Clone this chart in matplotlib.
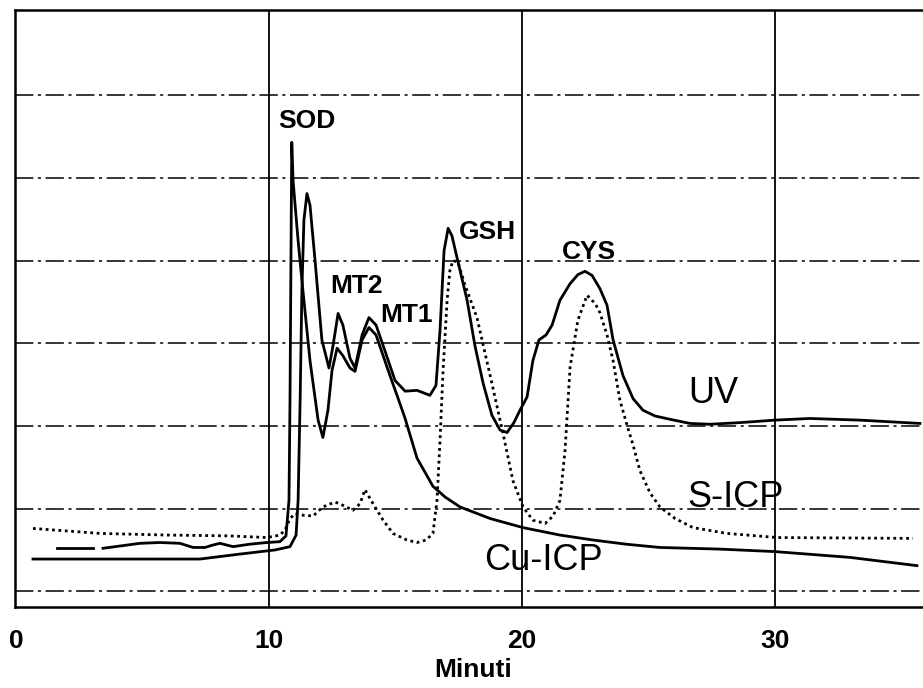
import numpy as np
import matplotlib.pyplot as plt

plt.rcParams['font.family'] = ['Liberation Sans', 'DejaVu Sans']

# --- data (time in min, signal in grid units) ---
uv_t = [0.67, 3.32, 7.27, 8.85, 10.24, 10.83, 11.07, 11.15, 11.23, 11.30, 11.38, 11.50,
        11.62, 11.82, 12.09, 12.37, 12.53, 12.73, 12.92, 13.20, 13.40, 13.68, 13.95, 14.23,
        14.58, 14.98, 15.38, 15.85, 16.36, 16.60, 16.76, 16.92, 17.08, 17.23, 17.55, 17.83,
        18.14, 18.46, 18.81, 19.13, 19.41, 19.68, 19.92, 20.20, 20.43, 20.67, 20.95, 21.19,
        21.50, 21.90, 22.21, 22.49, 22.77, 23.08, 23.36, 23.60, 23.99, 24.39, 24.78, 25.26,
        25.85, 26.64, 27.43, 28.62, 30.00, 31.38, 33.36, 35.73]
uv_v = [0.39, 0.39, 0.39, 0.45, 0.50, 0.54, 0.68, 1.10, 2.31, 3.64, 4.49, 4.81,
        4.67, 4.00, 3.04, 2.70, 2.97, 3.36, 3.22, 2.82, 2.70, 3.10, 3.31, 3.22,
        2.91, 2.55, 2.42, 2.43, 2.37, 2.49, 3.16, 4.12, 4.39, 4.30, 3.88, 3.52,
        2.97, 2.52, 2.13, 1.95, 1.92, 2.04, 2.19, 2.35, 2.79, 3.04, 3.10, 3.22,
        3.52, 3.72, 3.83, 3.87, 3.82, 3.66, 3.46, 3.04, 2.61, 2.33, 2.19, 2.12,
        2.08, 2.03, 2.02, 2.04, 2.07, 2.09, 2.07, 2.03]

cu_t = [1.62, 3.04,
        3.44, 4.90, 5.69, 6.48, 7.00, 7.47, 7.79, 8.06, 8.58, 9.25, 9.92, 10.43, 10.67,
        10.79, 10.83, 10.87, 10.90, 10.95, 11.15, 11.34, 11.62, 11.94, 12.13, 12.33, 12.49,
        12.69, 12.92, 13.20, 13.40, 13.68, 13.95, 14.23, 14.51, 14.78, 15.06, 15.38, 15.85,
        16.48, 16.96, 17.55, 18.74, 20.04, 21.50, 22.81, 24.10, 25.45, 27.83, 30.00, 32.96, 35.61]
cu_v = [0.52, 0.52,
        0.52, 0.58, 0.59, 0.58, 0.53, 0.53, 0.56, 0.58, 0.54, 0.57, 0.59, 0.60, 0.67,
        1.10, 2.31, 4.12, 5.43, 4.97, 4.24, 3.64, 2.79, 2.07, 1.86, 2.19, 2.67,
        2.94, 2.85, 2.70, 2.66, 3.04, 3.19, 3.10, 2.85, 2.61, 2.37, 2.09, 1.61,
        1.27, 1.14, 1.02, 0.88, 0.77, 0.68, 0.62, 0.57, 0.53, 0.51, 0.48, 0.41, 0.31]

s_t = [0.67, 3.32, 5.97, 8.46, 9.92, 10.43, 10.63, 10.83, 11.03, 11.34, 11.74, 12.13,
       12.61, 12.92, 13.32, 13.60, 13.79, 14.11, 14.51, 14.90, 15.45, 15.85, 16.21, 16.48,
       16.64, 16.76, 16.88, 17.04, 17.15, 17.27, 17.47, 17.75, 18.22, 18.74, 19.25, 19.64,
       20.04, 20.43, 20.91, 21.23, 21.50, 21.70, 21.90, 22.21, 22.57, 22.89, 23.08, 23.36,
       23.60, 23.87, 24.15, 24.39, 24.66, 25.06, 25.45, 26.05, 26.76, 28.10, 30.08, 35.45]
s_v = [0.76, 0.70, 0.68, 0.67, 0.65, 0.68, 0.74, 0.88, 0.94, 0.92, 0.91, 1.02,
       1.08, 1.04, 0.98, 1.06, 1.23, 1.06, 0.86, 0.70, 0.62, 0.59, 0.62, 0.70,
       1.10, 1.83, 2.67, 3.52, 3.88, 4.00, 3.98, 3.70, 3.31, 2.61, 1.91, 1.34,
       1.02, 0.86, 0.82, 0.91, 1.10, 1.70, 2.71, 3.28, 3.58, 3.48, 3.37, 3.10,
       2.79, 2.31, 2.01, 1.77, 1.46, 1.19, 1.02, 0.88, 0.77, 0.70, 0.65, 0.64]

peak_names = ["SOD", "MT2", "MT1", "GSH", "CYS"]
peak_t = [11.50, 13.44, 15.45, 18.62, 22.65]
peak_v = [5.69, 3.69, 3.34, 4.35, 4.10]

trace_names = ["UV", "S-ICP", "Cu-ICP"]
trace_t = [27.55, 28.46, 20.83]
trace_v = [2.39, 1.14, 0.37]

xticks = [0, 10, 20, 30]
grid_levels = [0, 1, 2, 3, 4, 5, 6]

fig = plt.figure(figsize=(9.23, 6.88), dpi=100)
ax = fig.add_axes([15/923, 81/688, 908/923, 597/688])

# grid: dash-dot horizontals, solid verticals
for g in grid_levels:
    ax.axhline(g, color='black', lw=1.1, ls=(0, (12, 3, 2, 3)), zorder=1)
for xt in xticks[1:]:
    ax.axvline(xt, color='black', lw=1.3, zorder=1)

lw = 2.0
ax.plot(uv_t, uv_v, color='black', lw=lw, solid_joinstyle='round', zorder=3)
ax.plot(cu_t[:2], cu_v[:2], color='black', lw=lw, zorder=3)
ax.plot(cu_t[2:], cu_v[2:], color='black', lw=lw, solid_joinstyle='round', zorder=3)
ax.plot(s_t, s_v, color='black', lw=2.0, ls=(0, (1.0, 1.3)), zorder=3)

for name, x, y in zip(peak_names, peak_t, peak_v):
    ax.text(x, y, name, fontsize=19, fontweight='bold', ha='center', va='center', zorder=4)
for name, x, y in zip(trace_names, trace_t, trace_v):
    ax.text(x, y, name, fontsize=26, ha='center', va='center', zorder=4)

ax.set_xlim(-0.04, 35.85)
ax.set_ylim(-0.19, 7.03)
ax.set_xticks(xticks)
ax.set_xticklabels([str(x) for x in xticks], fontsize=19, fontweight='bold')
ax.tick_params(axis='x', length=0, pad=16)
ax.set_yticks([])

for side in ['left', 'top', 'bottom']:
    ax.spines[side].set_linewidth(1.8)
ax.spines['right'].set_visible(False)

ax.set_xlabel("Minuti", fontsize=19, fontweight='bold')
ax.xaxis.set_label_coords(0.504, -0.105)
ax.xaxis.label.set_va('center')

fig.savefig("out.png", dpi=100)
